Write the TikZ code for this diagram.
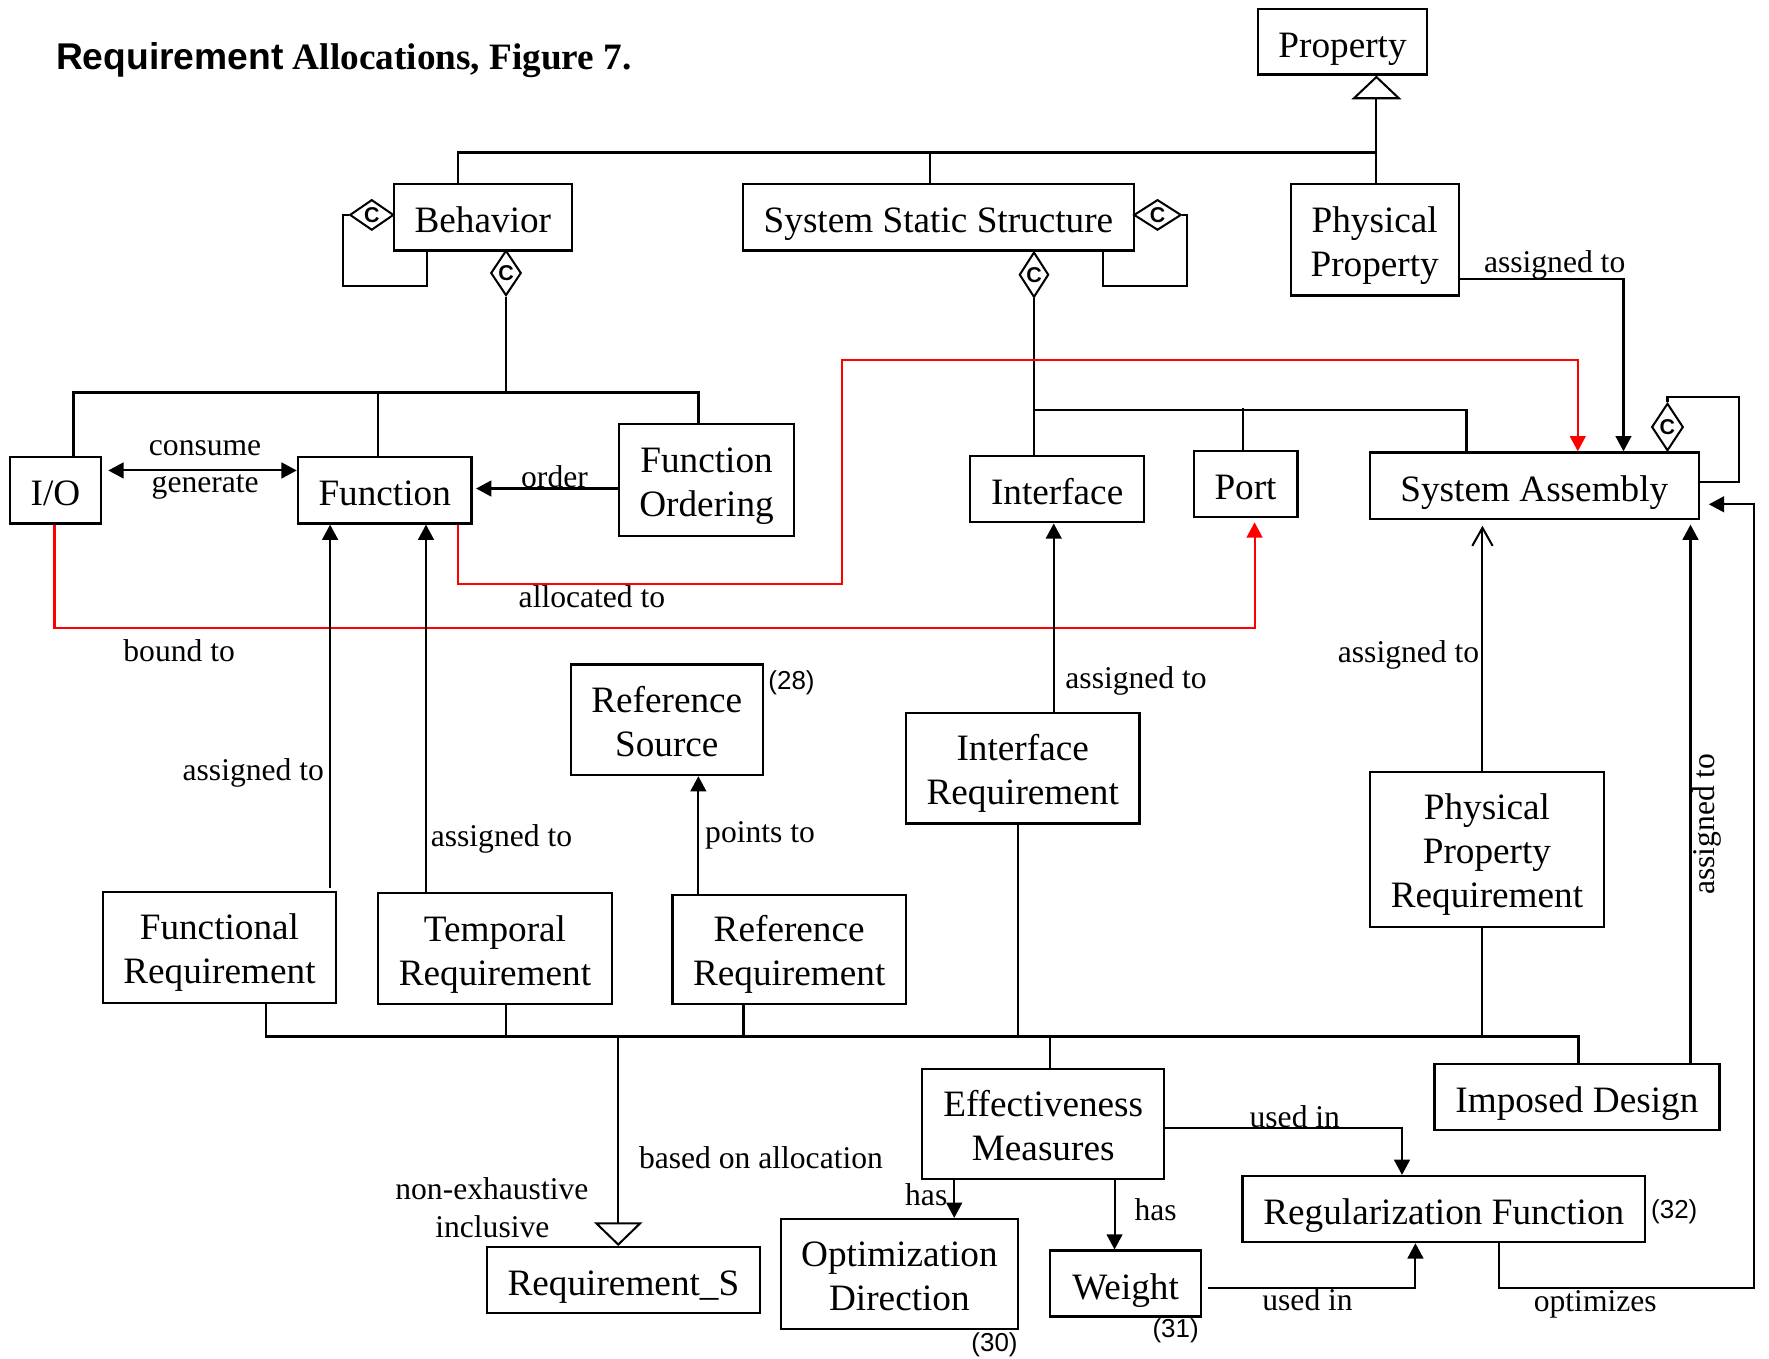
\documentclass[tikz,border=0pt]{standalone}
\usepackage{fontspec}
\setmainfont{Liberation Serif}
\setsansfont{Liberation Sans}
\usetikzlibrary{arrows.meta,shapes.geometric}
\newcommand\mlTop{\rule{0pt}{33pt}}
\newcommand\mlBot{\rule[-7.3pt]{0pt}{7.3pt}}
\begin{document}
\begin{tikzpicture}[x=1pt,y=-1pt,
 box/.style={draw, line width=2pt, inner sep=0pt, align=center,
   font=\fontsize{33}{39}\selectfont,
   execute at begin node={\rule{0pt}{35pt}},
   execute at end node={\rule[-7.3pt]{0pt}{7.3pt}}},
 boxm/.style={draw, line width=2pt, inner sep=0pt, align=center,
   font=\fontsize{33}{39}\selectfont},
 lbl/.style={inner sep=0pt, font=\fontsize{28}{34}\selectfont, text height=19pt, text depth=6.2pt},
 num/.style={inner sep=0pt, font=\sffamily\fontsize{23}{27}\selectfont},
 ln/.style={line width=1.8pt},
 bus/.style={line width=2.2pt},
 arr/.style={ln, -{Triangle[width=14pt,length=13.5pt]}},
 redarr/.style={ln, red, -{Triangle[width=14pt,length=13.5pt]}},
 diam/.style={draw, diamond, line width=1.8pt, inner sep=0pt, fill=white},
 ctext/.style={inner sep=0pt, font=\sffamily\bfseries\fontsize{19}{19}\selectfont},
]
\useasboundingbox (0,0) rectangle (1568,1204);

% title
\node[anchor=base west, inner sep=0pt, font=\fontsize{33}{40}\selectfont] (title) at (49.5,62)
  {{\sffamily\bfseries Requirement} {\bfseries Allocations, Figure 7.}};

% boxes
\node[box, minimum width=150pt, minimum height=58pt] (Property) at (1190,37) {Property};
\node[box, minimum width=158pt, minimum height=59pt] (Behavior) at (428,192.5) {Behavior};
\node[box, minimum width=346.4pt, minimum height=59pt] (SSS) at (831.8,192.5) {System Static Structure};
\node[boxm, minimum width=149pt, minimum height=99pt] (PhysProp) at (1218.5,212.5) {\mlTop Physical\\Property\mlBot};
\node[box, minimum width=80.5pt, minimum height=59pt] (IO) at (49.25,434.5) {I/O};
\node[box, minimum width=154pt, minimum height=59pt] (Function) at (341,434.5) {Function};
\node[boxm, minimum width=155.5pt, minimum height=99pt] (FuncOrd) at (626.25,425.5) {\mlTop Function\\Ordering\mlBot};
\node[box, minimum width=154pt, minimum height=59pt] (Interface) at (937,433.5) {Interface};
\node[box, minimum width=92pt, minimum height=58.5pt] (Port) at (1104,428.75) {Port};
\node[box, minimum width=291.4pt, minimum height=59pt] (SA) at (1360,430.5) {System Assembly};
\node[boxm, minimum width=170pt, minimum height=98pt] (RefSource) at (591,638) {\mlTop Reference\\Source\mlBot};
\node[boxm, minimum width=207pt, minimum height=98pt] (IntReq) at (906.5,681) {\mlTop Interface\\Requirement\mlBot};
\node[boxm, minimum width=208pt, minimum height=137.4pt] (PPR) at (1318,752.7) {\mlTop Physical\\Property\\Requirement\mlBot};
\node[boxm, minimum width=207pt, minimum height=98.4pt] (FR) at (194.5,839.8) {\mlTop Functional\\Requirement\mlBot};
\node[boxm, minimum width=207.4pt, minimum height=98.3pt] (TR) at (438.7,840.85) {\mlTop Temporal\\Requirement\mlBot};
\node[boxm, minimum width=207pt, minimum height=97pt] (RR) at (699.5,841.5) {\mlTop Reference\\Requirement\mlBot};
\node[boxm, minimum width=214.7pt, minimum height=97.5pt] (EM) at (924.65,996.25) {\mlTop Effectiveness\\Measures\mlBot};
\node[box, minimum width=252.6pt, minimum height=58.7pt] (ImpDes) at (1397.7,972.35) {Imposed Design};
\node[box, minimum width=356.6pt, minimum height=58.6pt] (RegFunc) at (1279.7,1071.7) {Regularization Function};
\node[box, minimum width=242.2pt, minimum height=58.6pt] (ReqS) at (552.6,1134.7) {Requirement\_S};
\node[boxm, minimum width=210.4pt, minimum height=97.5pt] (OptDir) at (797.2,1129.25) {\mlTop Optimization\\Direction\mlBot};
\node[box, minimum width=133.8pt, minimum height=58.5pt] (Weight) at (997.7,1137.75) {Weight};

% diamonds
\node[diam, minimum width=39pt, minimum height=27pt] (dBehL) at (329.5,190.5) {};
\node[diam, minimum width=27pt, minimum height=40pt] (dBehB) at (448.5,242) {};
\node[diam, minimum width=42pt, minimum height=27pt] (dSSSR) at (1026,190.5) {};
\node[diam, minimum width=26pt, minimum height=40pt] (dSSSB) at (916.5,243.5) {};
\node[diam, minimum width=28pt, minimum height=42pt] (dSA) at (1478,378.5) {};
\node[ctext] (cBehL) at (dBehL) {C};
\node[ctext] (cBehB) at (dBehB) {C};
\node[ctext] (cSSSR) at (dSSSR) {C};
\node[ctext] (cSSSB) at (dSSSB) {C};
\node[ctext] (cSA) at (dSA) {C};

% junction coordinates
\coordinate (jTop) at (1220,135);
\coordinate (jBeh) at (448.5,348);
\coordinate (jSSS) at (916.5,363.5);
\coordinate (jPort) at (1101.4,361.5);
\coordinate (jBot) at (548,918.8);

% top generalization
\draw[bus] (Behavior.north -| 406,0) -- (406,135) -- (jTop);
\draw[ln] (SSS.north -| 824.5,0) -- (824.5,135);
\draw[ln, -{Triangle[open,width=44pt,length=21pt]}] (PhysProp.north -| 1220,0) -- (Property.south -| 1220,0);

% behavior
\draw[ln] (dBehL.west) -- (304,190.5) -- (304,253.5) -- (378.6,253.5) -- (Behavior.south -| 378.6,0);
\draw[ln] (dBehB.south) -- (jBeh);
\draw[bus] (IO.north -| 65,0) -- (65,348) -- (619,348) -- (FuncOrd.north -| 619,0);
\draw[ln] (Function.north -| 335,0) -- (335,348);

% system static structure
\draw[ln] (dSSSR.east) -- (1052,190.5) -- (1052,253.5) -- (978,253.5) -- (SSS.south -| 978,0);
\draw[ln] (dSSSB.south) -- (Interface.north -| 916.5,0);
\draw[bus] (jSSS) -- (1300,363.5) -- (SA.north -| 1300,0);
\draw[ln] (jPort) -- (Port.north -| 1101.4,0);

% system assembly loop
\draw[ln] (dSA.north) -- (1478,352) -- (1541,352) -- (1541,427) -- (SA.east |- 0,427);

% physical property assigned to
\draw[arr] (PhysProp.east |- 0,247.5) -- (1439,247.5) -- (SA.north -| 1439,0);

% consume / generate
\draw[ln, {Triangle[width=14pt,length=13.5pt]}-{Triangle[width=14pt,length=13.5pt]}, shorten <=5.5pt]
  (IO.east |- 0,417) -- (Function.west |- 0,417);
% order
\draw[arr, shorten >=3pt] (FuncOrd.west |- 0,433) -- (Function.east |- 0,433);

% red connectors
\draw[redarr] (Function.south -| 406,0) -- (406,517.6) -- (746.5,517.6) -- (746.5,319.5)
  -- (1398.5,319.5) -- (SA.north -| 1398.5,0);
\draw[redarr, shorten >=4pt] (IO.south -| 48.3,0) -- (48.3,556.7) -- (1112,556.7) -- (Port.south -| 1112,0);

% assigned to
\draw[arr, shorten <=2.5pt] (FR.north -| 292.6,0) -- (Function.south -| 292.6,0);
\draw[arr] (TR.north -| 377.6,0) -- (Function.south -| 377.6,0);
\draw[arr] (RR.north -| 619,0) -- (RefSource.south -| 619,0);
\draw[arr] (IntReq.north -| 934,0) -- (Interface.south -| 934,0);
\draw[ln, -{Straight Barb[width=18pt,length=16pt]}, shorten >=5pt] (PPR.north -| 1314,0) -- (SA.south -| 1314,0);
\draw[arr, shorten >=4pt] (ImpDes.north -| 1498.4,0) -- (SA.south -| 1498.4,0);
\draw[arr, shorten >=8pt] (RegFunc.south -| 1328.4,0) -- (1328.4,1141.7) -- (1554.5,1141.7)
  -- (1554.5,447) -- (SA.east |- 0,447);

% bottom bus
\draw[bus] (FR.south -| 236,0) -- (236,918.8) -- (1399,918.8) -- (ImpDes.north -| 1399,0);
\draw[ln] (TR.south -| 448.7,0) -- (448.7,918.8);
\draw[ln] (RR.south -| 659,0) -- (659,918.8);
\draw[ln] (IntReq.south -| 902.4,0) -- (902.4,918.8);
\draw[ln] (PPR.south -| 1314,0) -- (1314,918.8);
\draw[ln] (930.8,918.8) -- (EM.north -| 930.8,0);
\draw[ln, -{Triangle[open,width=43pt,length=21pt]}] (jBot) -- (ReqS.north -| 548,0);

% effectiveness measures
\draw[arr] (EM.south -| 845.8,0) -- (OptDir.north -| 845.8,0);
\draw[arr] (EM.south -| 987.9,0) -- (Weight.north -| 987.9,0);
\draw[arr] (EM.east |- 0,999.5) -- (1242.7,999.5) -- (RegFunc.north -| 1242.7,0);
\draw[arr, shorten <=5pt] (Weight.east |- 0,1141.7) -- (1254.6,1141.7) -- (RegFunc.south -| 1254.6,0);

% labels
\node[lbl] (lConsume) at (181.8,397) {consume};
\node[lbl] (lGenerate) at (181.9,430) {generate};
\node[lbl] (lOrder) at (491.5,426) {order};
\node[lbl] (lAlloc) at (524.7,532) {allocated to};
\node[lbl] (lBound) at (158.8,579.5) {bound to};
\node[lbl] (lPP) at (1378,235) {assigned to};
\node[lbl] (lIntf) at (1007,604) {assigned to};
\node[lbl] (lPPR) at (1248.5,581) {assigned to};
\node[lbl, rotate=90] (lImp) at (1513,730.5) {assigned to};
\node[lbl] (lFR) at (224.5,685) {assigned to};
\node[lbl] (lTR) at (444.5,744) {assigned to};
\node[lbl] (lPoints) at (673.7,740) {points to};
\node[lbl] (lBased) at (674.5,1029.5) {based on allocation};
\node[lbl] (lNonEx) at (436,1056.5) {non-exhaustive};
\node[lbl] (lIncl) at (436.4,1090.5) {inclusive};
\node[lbl] (lHas1) at (821,1062) {has};
\node[lbl] (lHas2) at (1024.3,1075.4) {has};
\node[lbl] (lUsed1) at (1147.7,993) {used in};
\node[lbl] (lUsed2) at (1159,1155.5) {used in};
\node[lbl] (lOpt) at (1414,1156.5) {optimizes};
\node[num] (n28) at (701.6,605.5) {(28)};
\node[num] (n30) at (881.5,1192) {(30)};
\node[num] (n31) at (1042,1180) {(31)};
\node[num] (n32) at (1484,1074) {(32)};
\end{tikzpicture}
\end{document}
